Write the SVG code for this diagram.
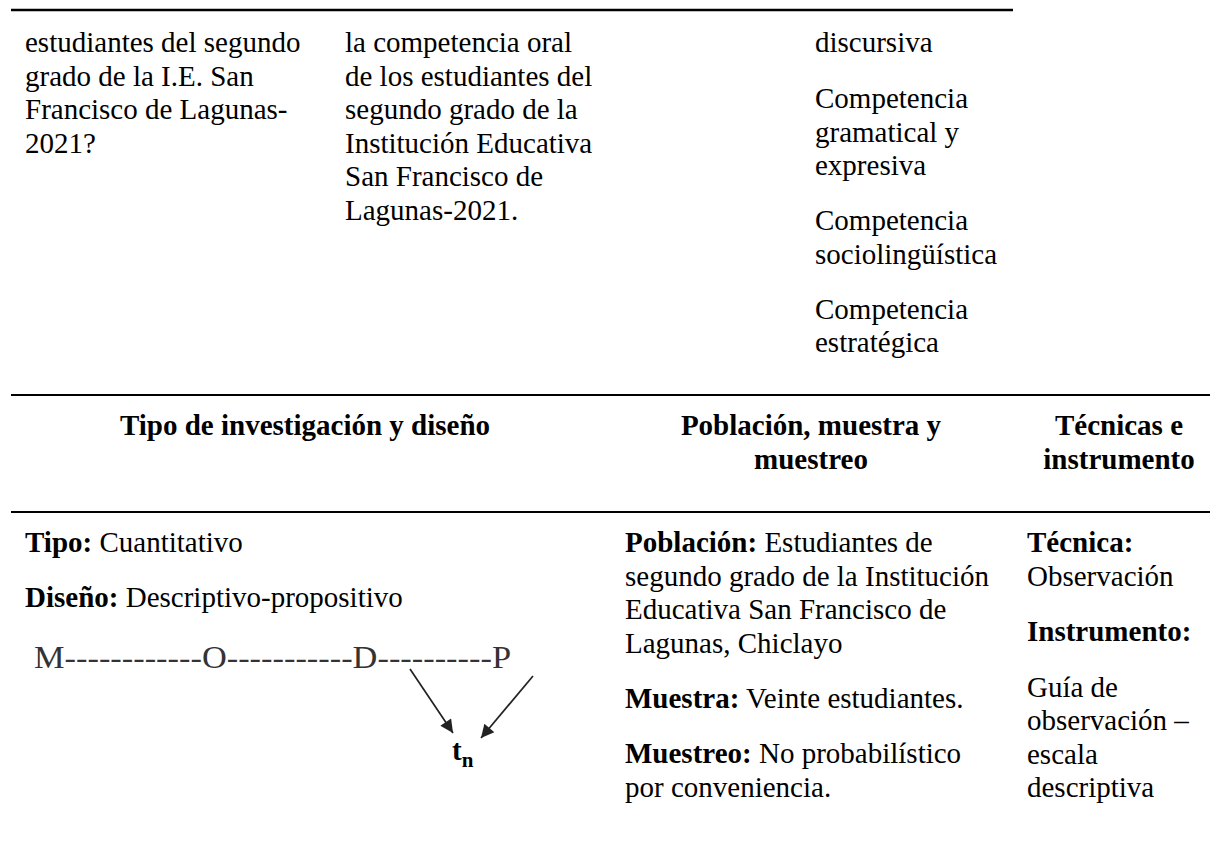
<svg xmlns="http://www.w3.org/2000/svg" width="1210" height="867" viewBox="0 0 1210 867">
<style>
text{font-family:"Liberation Serif","Times New Roman",serif;font-size:29px;fill:#000}
.b{font-weight:bold}
.rule{stroke:#000;fill:none}
.arrow{stroke:#222;stroke-width:1.7;fill:none}
.dg{font-size:32px;fill:#333}
</style>
<defs>
<marker id="ah" viewBox="0 0 10 10" refX="10" refY="5" markerWidth="17" markerHeight="13" markerUnits="userSpaceOnUse" orient="auto">
<path d="M0,0 L10,5 L0,10 Z" fill="#222"/>
</marker>
</defs>
<rect width="1210" height="867" fill="#fff"/>
<g id="rules">
<line class="rule" x1="11" y1="10" x2="1013" y2="10" stroke-width="2.5"/>
<line class="rule" x1="11" y1="395" x2="1210" y2="395" stroke-width="1.8"/>
<line class="rule" x1="11" y1="512" x2="1210" y2="512" stroke-width="1.8"/>
</g>
<g id="cell-problema">
<text x="25" y="52">estudiantes del segundo</text>
<text x="25" y="85.5">grado de la I.E. San</text>
<text x="25" y="119">Francisco de Lagunas-</text>
<text x="25" y="152.5">2021?</text>
</g>
<g id="cell-objetivo">
<text x="345" y="52">la competencia oral</text>
<text x="345" y="85.5">de los estudiantes del</text>
<text x="345" y="119">segundo grado de la</text>
<text x="345" y="152.5">Institución Educativa</text>
<text x="345" y="186">San Francisco de</text>
<text x="345" y="219.5">Lagunas-2021.</text>
</g>
<g id="cell-dimensiones">
<text x="815" y="52">discursiva</text>
<text x="815" y="108">Competencia</text>
<text x="815" y="141.5">gramatical y</text>
<text x="815" y="175">expresiva</text>
<text x="815" y="230">Competencia</text>
<text x="815" y="263.5">sociolingüística</text>
<text x="815" y="318.5">Competencia</text>
<text x="815" y="352">estratégica</text>
</g>
<g id="header-tipo">
<text class="b" x="305" y="435" text-anchor="middle">Tipo de investigación y diseño</text>
</g>
<g id="header-poblacion">
<text class="b" x="811" y="435" text-anchor="middle">Población, muestra y</text>
<text class="b" x="811" y="468.5" text-anchor="middle">muestreo</text>
</g>
<g id="header-tecnicas">
<text class="b" x="1119" y="435" text-anchor="middle">Técnicas e</text>
<text class="b" x="1119" y="468.5" text-anchor="middle">instrumento</text>
</g>
<g id="cell-tipo">
<text x="25" y="552"><tspan class="b">Tipo:</tspan> Cuantitativo</text>
<text x="25" y="607"><tspan class="b">Diseño:</tspan> Descriptivo-propositivo</text>
</g>
<g id="node-design">
<text class="dg" x="34" y="668" textLength="477" lengthAdjust="spacingAndGlyphs">M------------O-----------D----------P</text>
</g>
<g id="node-tn">
<text class="b" x="452" y="760" font-size="26" fill="#222">t<tspan font-size="21" dy="7">n</tspan></text>
</g>
<g id="connectors">
<line class="arrow" x1="410" y1="669" x2="453" y2="733" marker-end="url(#ah)"/>
<line class="arrow" x1="533" y1="676" x2="481" y2="738" marker-end="url(#ah)"/>
</g>
<g id="cell-poblacion">
<text x="625" y="552"><tspan class="b">Población:</tspan> Estudiantes de</text>
<text x="625" y="585.5">segundo grado de la Institución</text>
<text x="625" y="619">Educativa San Francisco de</text>
<text x="625" y="652.5">Lagunas, Chiclayo</text>
<text x="625" y="707.5"><tspan class="b">Muestra:</tspan> Veinte estudiantes.</text>
<text x="625" y="763"><tspan class="b">Muestreo:</tspan> No probabilístico</text>
<text x="625" y="796.5">por conveniencia.</text>
</g>
<g id="cell-tecnicas">
<text class="b" x="1027" y="552">Técnica:</text>
<text x="1027" y="585.5">Observación</text>
<text class="b" x="1027" y="641">Instrumento:</text>
<text x="1027" y="696.5">Guía de</text>
<text x="1027" y="730">observación –</text>
<text x="1027" y="763.5">escala</text>
<text x="1027" y="797">descriptiva</text>
</g>
</svg>
